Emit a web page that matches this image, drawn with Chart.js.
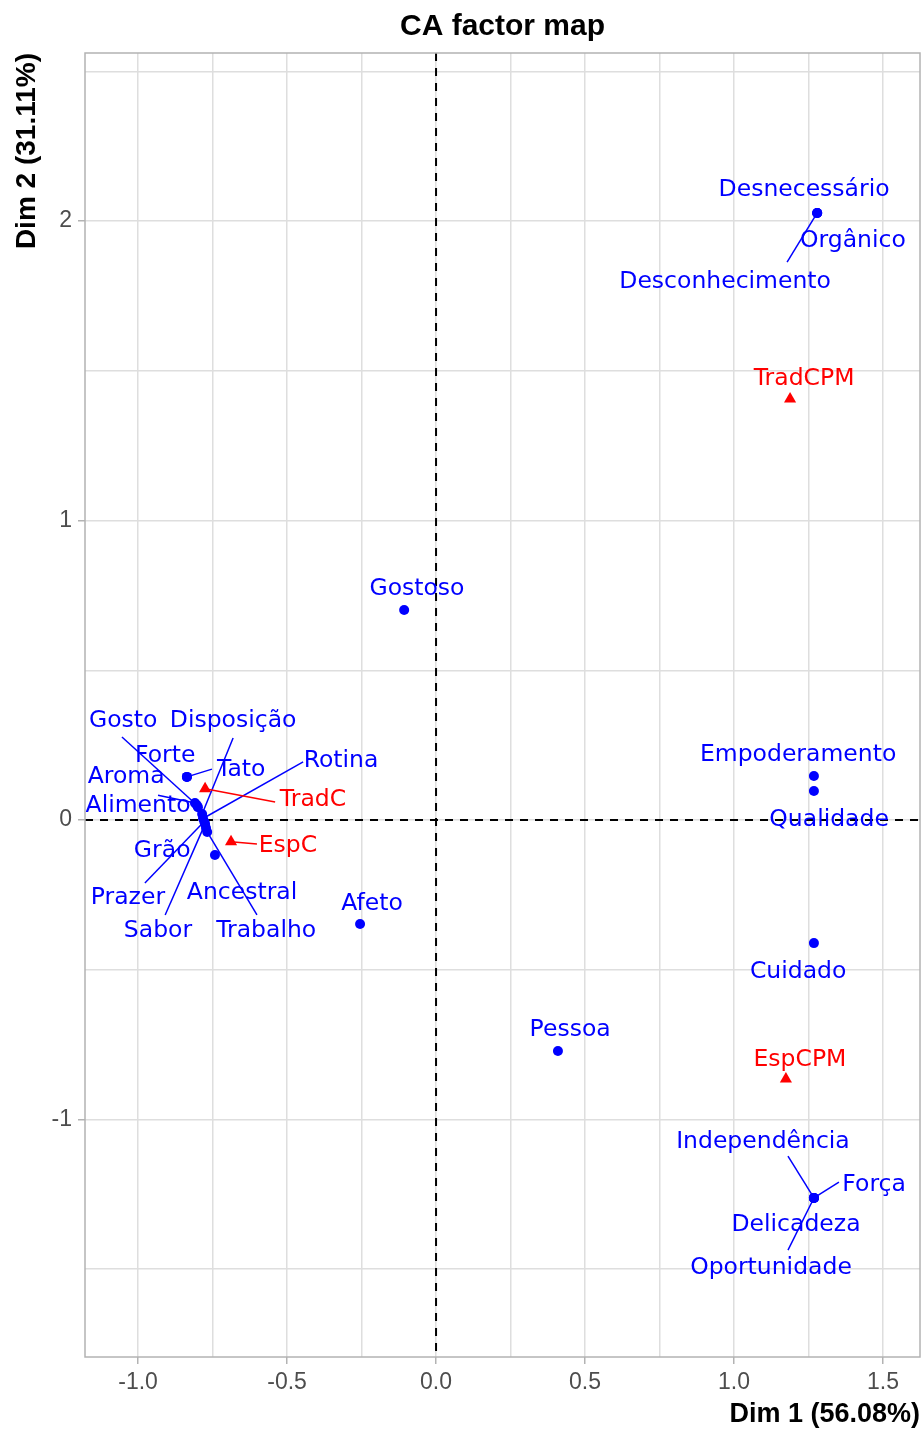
<!DOCTYPE html>
<html>
<head>
<meta charset="utf-8">
<title>CA factor map</title>
<script src="https://cdn.jsdelivr.net/npm/chart.js@4.4.1/dist/chart.umd.min.js"></script>
<style>
html,body{margin:0;padding:0;background:#ffffff;}
canvas{display:block;}
</style>
</head>
<body>
<canvas id="caChart" width="922" height="1433"></canvas>
<script>
// ===========================
// DATA (CA coordinates)
// ===========================

// column categories (blue circles)
const colNames = [
    'Desnecessário','Orgânico','Desconhecimento','Gostoso','Gosto',
    'Disposição','Forte','Tato','Rotina','Aroma',
    'Alimento','Grão','Ancestral','Prazer','Sabor',
    'Trabalho','Afeto','Pessoa','Empoderamento','Qualidade',
    'Cuidado','Independência','Força','Delicadeza','Oportunidade'
];
const colX = [
    1.279, 1.279, 1.279, -0.107, -0.803,
    -0.785, -0.836, -0.836, -0.782, -0.809,
    -0.799, -0.772, -0.742, -0.778, -0.775,
    -0.768, -0.255, 0.409, 1.268, 1.268,
    1.268, 1.268, 1.268, 1.268, 1.268
];
const colY = [
    2.027, 2.027, 2.027, 0.701, 0.050,
    0.020, 0.144, 0.144, 0.005, 0.057,
    0.043, -0.027, -0.117, -0.005, -0.013,
    -0.040, -0.347, -0.771, 0.147, 0.097,
    -0.411, -1.262, -1.262, -1.262, -1.262
];
// repelled label positions
const colLabelX = [
    1.235, 1.399, 0.970, -0.064, -1.050,
    -0.681, -0.909, -0.654, -0.319, -1.040,
    -1.000, -0.919, -0.651, -1.034, -0.933,
    -0.570, -0.215, 0.450, 1.215, 1.319,
    1.215, 1.097, 1.470, 1.208, 1.124
];
const colLabelY = [
    2.103, 1.933, 1.796, 0.771, 0.330,
    0.330, 0.214, 0.167, 0.197, 0.144,
    0.047, -0.104, -0.244, -0.260, -0.371,
    -0.371, -0.280, -0.701, 0.217, 0.000,
    -0.508, -1.075, -1.219, -1.352, -1.495
];
// label end of the connecting segment (null = no segment)
const colSegX = [
    null, null, 1.178, null, -1.054,
    -0.681, null, -0.752, -0.446, -0.933,
    null, null, null, -0.977, -0.909,
    -0.601, null, null, null, null,
    null, 1.181, 1.352, null, 1.181
];
const colSegY = [
    null, null, 1.863, null, 0.277,
    0.274, null, 0.170, 0.194, 0.083,
    null, null, null, -0.210, -0.317,
    -0.317, null, null, null, null,
    null, -1.122, -1.209, null, -1.436
];

// row categories (red triangles)
const rowNames = ['TradCPM','TradC','EspC','EspCPM'];
const rowX = [1.188, -0.775, -0.688, 1.174];
const rowY = [1.406, 0.104, -0.073, -0.865];
const rowLabelX = [1.235, -0.413, -0.497, 1.221];
const rowLabelY = [1.472, 0.067, -0.087, -0.801];
const rowSegX = [null, -0.540, -0.601, null];
const rowSegY = [null, 0.060, -0.080, null];

// axes
const xMin = -1.178, xMax = 1.624;
const yMin = -1.793, yMax = 2.561;
const xTicks = [-1.0, -0.5, 0.0, 0.5, 1.0, 1.5];
const xTickLabels = ['-1.0','-0.5','0.0','0.5','1.0','1.5'];
const xMinor = [-0.75, -0.25, 0.25, 0.75, 1.25];
const yTicks = [-1, 0, 1, 2];
const yTickLabels = ['-1','0','1','2'];
const yMinor = [-1.5, -0.5, 0.5, 1.5, 2.5];

const xTitle = 'Dim 1 (56.08%)';
const yTitle = 'Dim 2 (31.11%)';
const chartTitle = 'CA factor map';

// ===========================
// HELPERS
// ===========================

const BLUE = '#0000FF';
const RED = '#FF0000';
const GRID = '#DEDEDE';
const FRAME = '#B3B3B3';

const toPoints = (xs, ys) => xs.map((v, i) => ({x: v, y: ys[i]}));

const tickLabel = (ticks, labels) => v => {
    const i = ticks.indexOf(v);
    return i < 0 ? '' : labels[i];
};

function drawLabels(ctx, sx, sy, names, px, py, lx, ly, segX, segY, color){
    ctx.strokeStyle = color;
    ctx.lineWidth = 1.5;
    names.forEach((n, i) => {
        if (segX[i] === null) return;
        ctx.beginPath();
        ctx.moveTo(sx.getPixelForValue(px[i]), sy.getPixelForValue(py[i]));
        ctx.lineTo(sx.getPixelForValue(segX[i]), sy.getPixelForValue(segY[i]));
        ctx.stroke();
    });
    ctx.fillStyle = color;
    ctx.font = '23.5px "DejaVu Sans"';
    ctx.textAlign = 'center';
    ctx.textBaseline = 'middle';
    names.forEach((n, i) => {
        ctx.fillText(n, sx.getPixelForValue(lx[i]), sy.getPixelForValue(ly[i]));
    });
}

// ===========================
// PLUGINS
// ===========================

const zeroLines = {
    id: 'zeroLines',
    beforeDatasetsDraw(chart){
        const {ctx, chartArea: a, scales: {x, y}} = chart;
        const x0 = x.getPixelForValue(0);
        const y0 = y.getPixelForValue(0);
        ctx.save();
        ctx.strokeStyle = '#000000';
        ctx.lineWidth = 2;
        ctx.setLineDash([8, 7]);
        ctx.beginPath();
        ctx.moveTo(x0, a.top);
        ctx.lineTo(x0, a.bottom);
        ctx.moveTo(a.left, y0);
        ctx.lineTo(a.right, y0);
        ctx.stroke();
        ctx.restore();
    }
};

const repelText = {
    id: 'repelText',
    afterDatasetsDraw(chart){
        const {ctx, chartArea: a, scales: {x, y}} = chart;
        ctx.save();
        drawLabels(ctx, x, y, colNames, colX, colY, colLabelX, colLabelY, colSegX, colSegY, BLUE);
        drawLabels(ctx, x, y, rowNames, rowX, rowY, rowLabelX, rowLabelY, rowSegX, rowSegY, RED);
        // panel border
        ctx.strokeStyle = FRAME;
        ctx.lineWidth = 1.5;
        ctx.strokeRect(a.left, a.top, a.right - a.left, a.bottom - a.top);
        // title over the panel
        ctx.fillStyle = '#000000';
        ctx.font = 'bold 30px "Liberation Sans"';
        ctx.textAlign = 'center';
        ctx.textBaseline = 'alphabetic';
        ctx.fillText(chartTitle, (a.left + a.right) / 2, 35);
        ctx.restore();
    }
};

// ===========================
// CHART
// ===========================

const ctx = document.getElementById('caChart').getContext('2d');

const tickFont = {family: 'Liberation Sans', size: 23};
const titleFont = {family: 'Liberation Sans', size: 27, weight: 'bold'};

new Chart(ctx, {
    type: 'scatter',
    data: {
        datasets: [
            {
                label: 'Colunas',
                data: toPoints(colX, colY),
                pointStyle: 'circle',
                pointRadius: 5,
                backgroundColor: BLUE,
                borderColor: BLUE,
                borderWidth: 0
            },
            {
                label: 'Linhas',
                data: toPoints(rowX, rowY),
                pointStyle: 'triangle',
                pointRadius: 7,
                backgroundColor: RED,
                borderColor: RED,
                borderWidth: 0
            }
        ]
    },
    options: {
        responsive: false,
        animation: false,
        devicePixelRatio: 1,
        layout: {
            autoPadding: false,
            padding: {top: 53, right: 2, left: 0, bottom: 0}
        },
        plugins: {
            legend: {display: false},
            tooltip: {enabled: false}
        },
        scales: {
            x: {
                type: 'linear',
                min: xMin,
                max: xMax,
                afterBuildTicks: s => {
                    s.ticks = xTicks.concat(xMinor).sort((p, q) => p - q).map(v => ({value: v}));
                },
                afterFit: s => {
                    s.height = 76;
                    s.paddingLeft = 0;
                    s.paddingRight = 0;
                },
                ticks: {
                    autoSkip: false,
                    maxRotation: 0,
                    padding: 5,
                    color: '#4D4D4D',
                    font: tickFont,
                    callback: tickLabel(xTicks, xTickLabels)
                },
                grid: {
                    color: GRID,
                    lineWidth: 1.5,
                    tickLength: 7,
                    tickColor: c => xTicks.includes(c.tick.value) ? FRAME : 'rgba(0,0,0,0)'
                },
                border: {display: false},
                title: {
                    display: true,
                    text: xTitle,
                    align: 'end',
                    color: '#000000',
                    font: titleFont,
                    padding: {top: 0, bottom: 2}
                }
            },
            y: {
                type: 'linear',
                min: yMin,
                max: yMax,
                afterBuildTicks: s => {
                    s.ticks = yTicks.concat(yMinor).sort((p, q) => p - q).map(v => ({value: v}));
                },
                afterFit: s => {
                    s.width = 85;
                    s.paddingTop = 0;
                    s.paddingBottom = 0;
                },
                ticks: {
                    autoSkip: false,
                    padding: 6,
                    color: '#4D4D4D',
                    font: tickFont,
                    callback: tickLabel(yTicks, yTickLabels)
                },
                grid: {
                    color: GRID,
                    lineWidth: 1.5,
                    tickLength: 7,
                    tickColor: c => yTicks.includes(c.tick.value) ? FRAME : 'rgba(0,0,0,0)'
                },
                border: {display: false},
                title: {
                    display: true,
                    text: yTitle,
                    align: 'end',
                    color: '#000000',
                    font: {family: 'Liberation Sans', size: 28, weight: 'bold'},
                    padding: {top: 10, bottom: 0}
                }
            }
        }
    },
    plugins: [zeroLines, repelText]
});
</script>
</body>
</html>
